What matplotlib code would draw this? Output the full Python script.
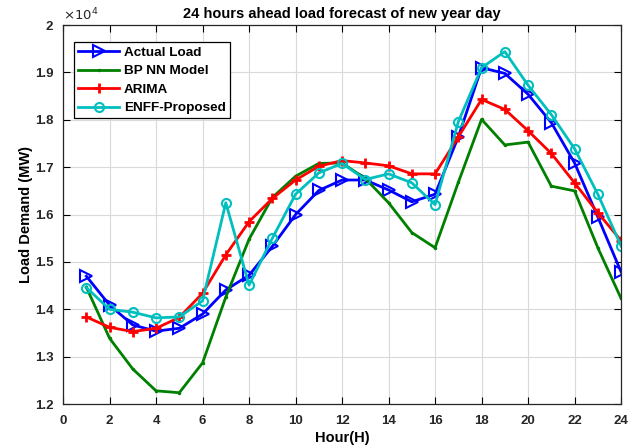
import matplotlib
matplotlib.use("Agg")
import matplotlib.pyplot as plt
from matplotlib.ticker import FuncFormatter

plt.rcParams['font.family'] = ['Liberation Sans', 'DejaVu Sans']

hours = list(range(1, 25))
actual = [14700, 14090, 13670, 13540, 13600, 13900, 14410, 14720, 15330, 16000,
          16510, 16730, 16730, 16520, 16270, 16430, 17640, 19100, 18980, 18540,
          17940, 17090, 15950, 14790]
bpnn = [14470, 13390, 12740, 12280, 12240, 12870, 14260, 15480, 16360, 16810,
        17080, 17090, 16760, 16250, 15620, 15300, 16680, 18010, 17470, 17530,
        16600, 16500, 15300, 14230]
arima = [13840, 13620, 13530, 13600, 13830, 14340, 15150, 15850, 16340, 16730,
         17020, 17140, 17090, 17030, 16860, 16860, 17640, 18430, 18220, 17770,
         17290, 16670, 16040, 15450]
enff = [14460, 14000, 13940, 13820, 13840, 14180, 16250, 14510, 15500, 16430,
        16880, 17080, 16740, 16860, 16670, 16210, 17960, 19100, 19440, 18730,
        18110, 17390, 16430, 15340]

fig = plt.figure(figsize=(6.37, 4.48), dpi=100)
ax = fig.add_axes([0.099, 0.098, 0.876, 0.846])

ax.plot(hours, actual, color=(0, 0, 1), lw=2, marker='>', ms=9, mfc='none', mew=1.5, label='Actual Load')
ax.plot(hours, bpnn, color=(0, 0.5, 0), lw=2, marker='.', ms=3, label='BP NN Model')
ax.plot(hours, arima, color=(1, 0, 0), lw=2, marker='+', ms=7, mew=2, label='ARIMA')
ax.plot(hours, enff, color=(0, 0.75, 0.75), lw=2, marker='o', ms=6.5, mfc='none', mew=1.5, label='ENFF-Proposed')

ax.set_xlim(0, 24)
ax.set_ylim(12000, 20000)
ax.set_xticks(range(0, 25, 2))
ax.set_yticks(range(12000, 20001, 1000))
ax.yaxis.set_major_formatter(FuncFormatter(lambda v, p: ('%g' % (v / 1e4))))
ax.grid(True, color=(0.85, 0.85, 0.85), lw=0.8)
ax.set_axisbelow(True)
ax.tick_params(direction='in', top=True, right=True, length=5, labelsize=9.5, width=0.8)
ax.tick_params(axis='x', pad=8)
ax.tick_params(axis='y', pad=7)
for lab in ax.get_xticklabels() + ax.get_yticklabels():
    lab.set_fontweight('bold')
    lab.set_color((0.15, 0.15, 0.15))
for s in ax.spines.values():
    s.set_color((0.15, 0.15, 0.15))
    s.set_linewidth(0.9)

ax.text(0.0, 1.005, r'$\times 10^{4}$', transform=ax.transAxes, fontsize=9.5, ha='left', va='bottom', color=(0.15, 0.15, 0.15))
ax.set_title('24 hours ahead load forecast of new year day', fontsize=10.5, fontweight='bold', pad=5)
ax.set_xlabel('Hour(H)', fontsize=10.5, fontweight='bold', labelpad=3)
ax.set_ylabel('Load Demand (MW)', fontsize=10.5, fontweight='bold', labelpad=1)

leg = ax.legend(loc='upper left', bbox_to_anchor=(0.008, 0.972), fancybox=False, edgecolor='black',
                framealpha=1, prop={'weight': 'bold', 'size': 9.7}, handlelength=3.0,
                borderpad=0.3, labelspacing=0.45, handletextpad=0.4)
leg.get_frame().set_linewidth(0.9)

fig.savefig('out.png', dpi=100)
